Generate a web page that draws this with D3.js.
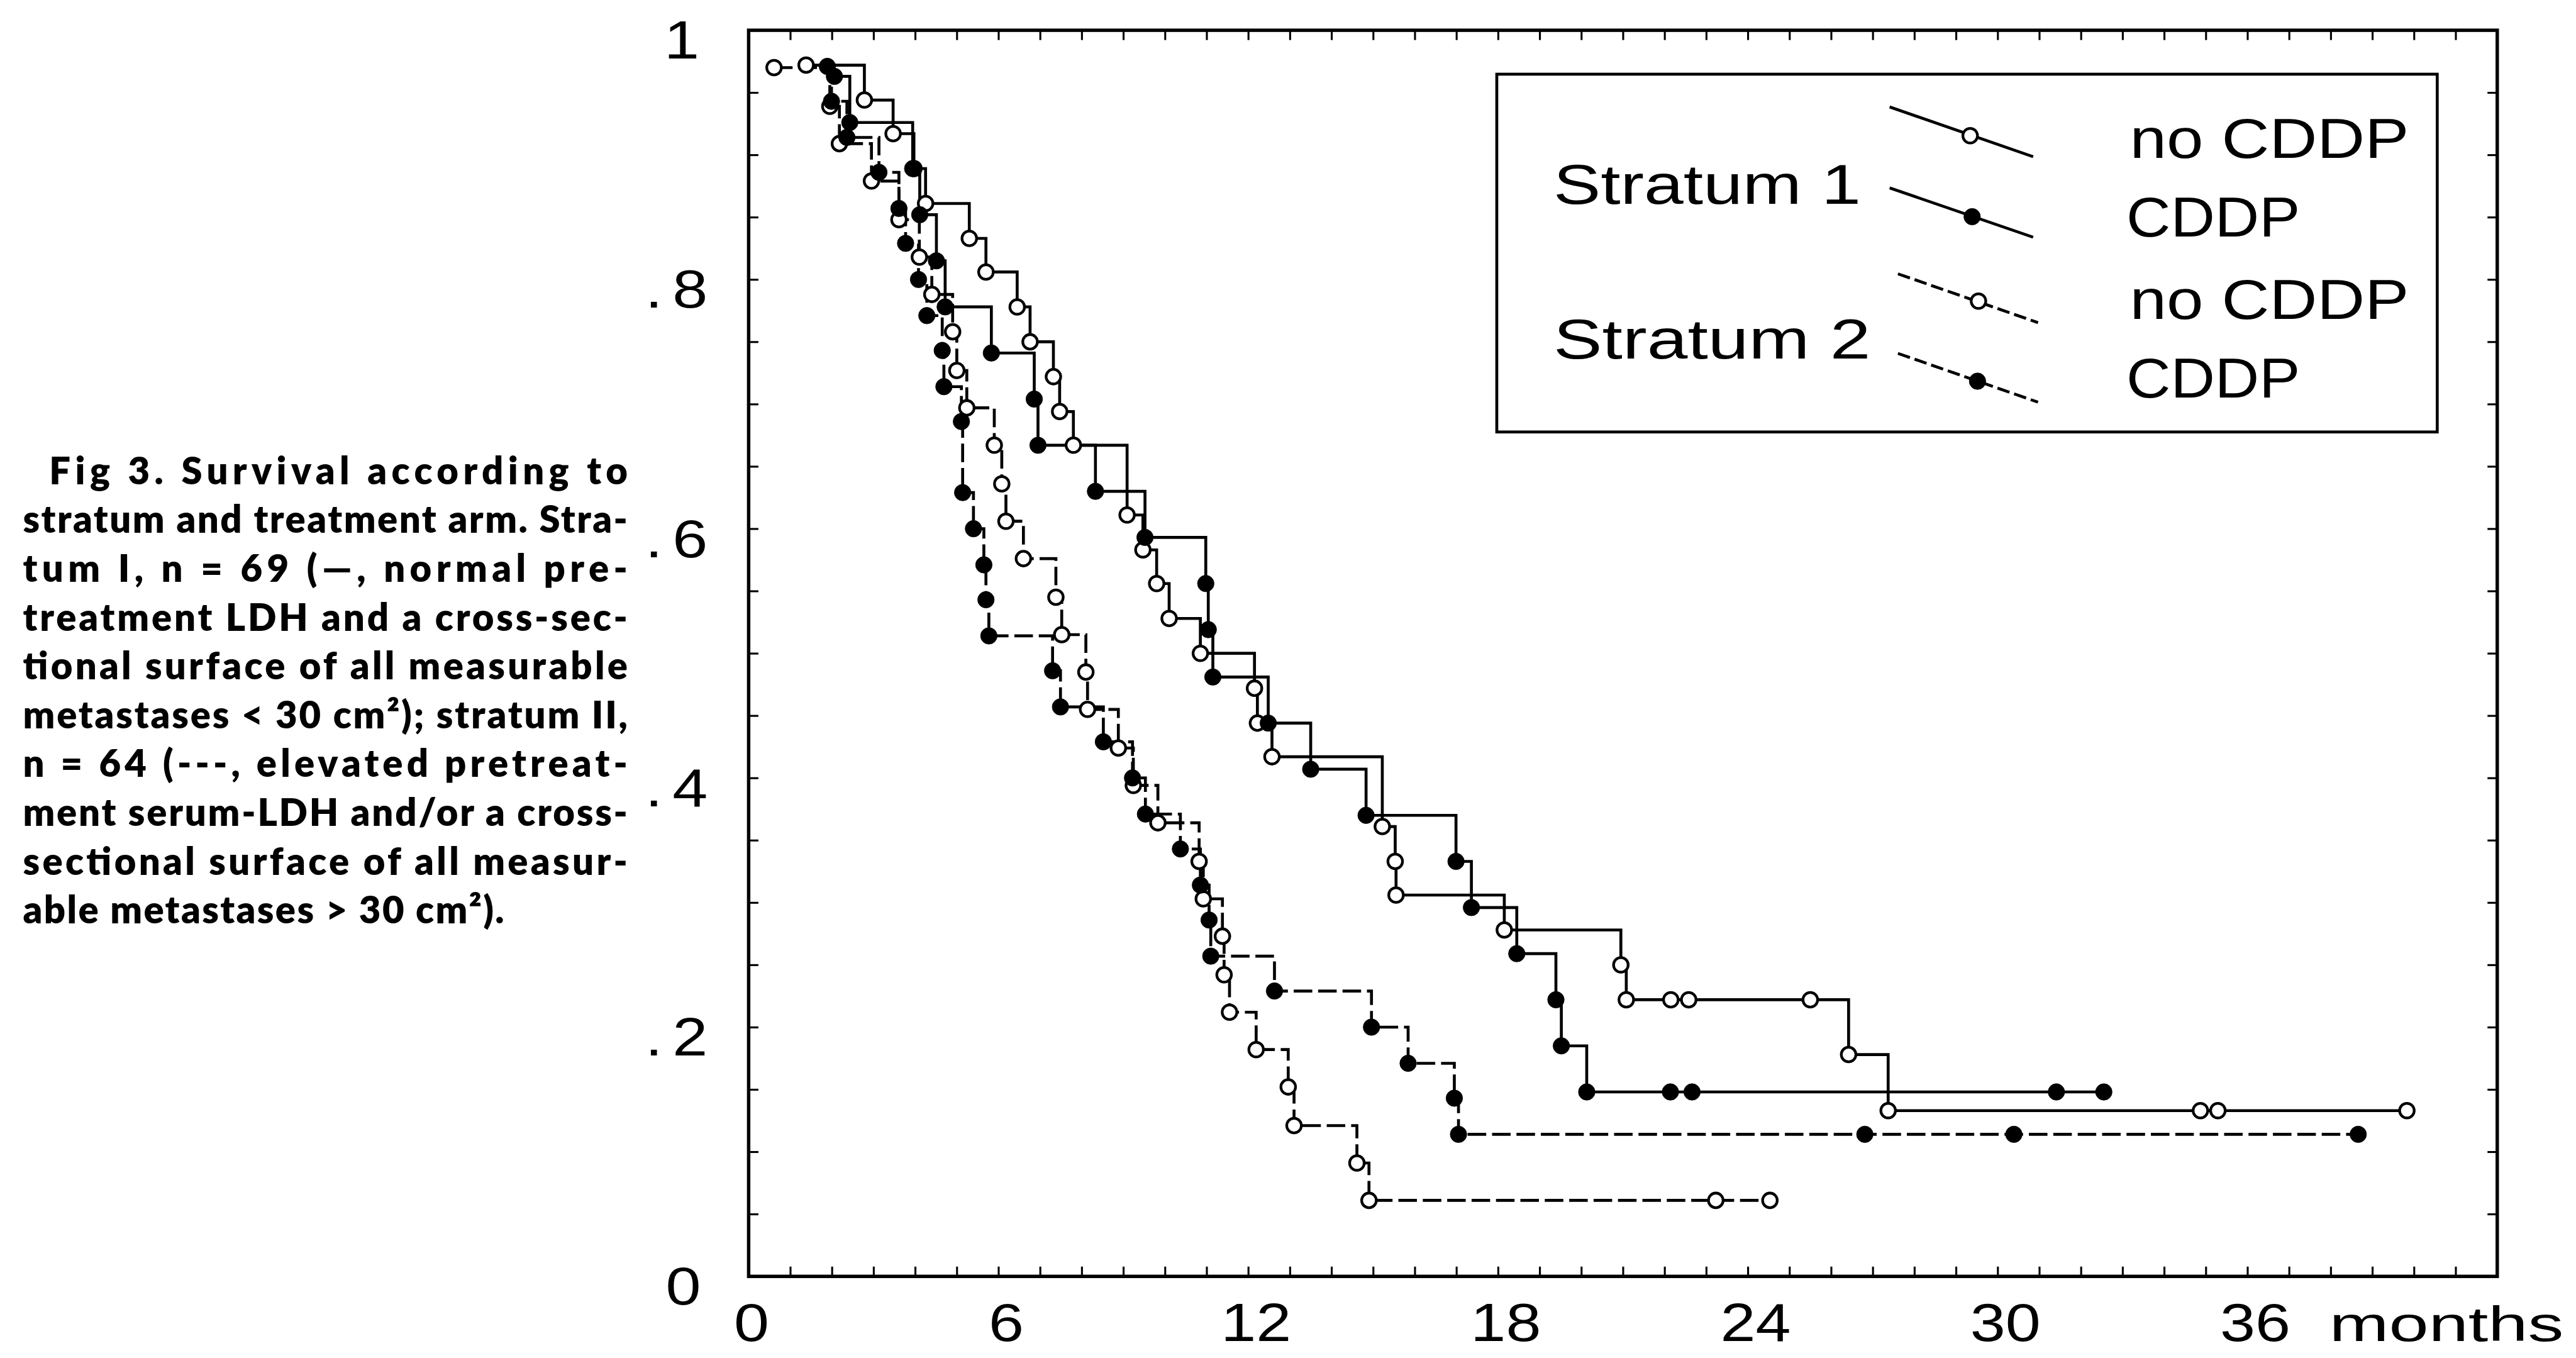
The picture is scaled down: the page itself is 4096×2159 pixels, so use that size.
<!DOCTYPE html>
<html><head><meta charset="utf-8">
<script src="https://cdnjs.cloudflare.com/ajax/libs/d3/7.8.5/d3.min.js"></script>
<style>html,body{margin:0;padding:0;background:#fff;}svg{display:block;}</style>
</head><body>
<script>
// ---------- data (time in months, survival probability) ----------
const monthTicks = d3.range(0, 43);
const xLabelValues = [0, 6, 12, 18, 24, 30, 36];
const yMinorTicks = d3.range(0, 21).map(i => i / 20);
const yLabelValues = [0, 0.2, 0.4, 0.6, 0.8, 1];
const yLabelDigits = ["0", "2", "4", "6", "8", "1"];

const s1NoCDDP = [[1.38,0.972],[2.78,0.944],[3.47,0.917],[3.97,0.889],[4.25,0.861],[5.30,0.833],[5.70,0.806],[6.45,0.778],[6.76,0.750],[7.32,0.722],[7.47,0.694],[7.80,0.667],[9.09,0.611],[9.47,0.583],[9.80,0.556],[10.10,0.528],[10.85,0.500],[12.15,0.472],[12.22,0.444],[12.57,0.417],[15.22,0.361],[15.53,0.333],[15.55,0.306],[18.15,0.278],[20.95,0.250],[21.08,0.222],[22.15,0.222],[22.58,0.222],[25.50,0.222],[26.42,0.178],[27.37,0.133],[34.87,0.133],[35.29,0.133],[39.83,0.133]];
const s1CDDP = [[2.06,0.963],[2.43,0.926],[3.94,0.889],[4.11,0.852],[4.51,0.815],[4.72,0.778],[5.83,0.741],[6.86,0.704],[6.95,0.667],[8.33,0.630],[9.52,0.593],[10.98,0.556],[11.04,0.519],[11.15,0.481],[12.48,0.444],[13.50,0.407],[14.83,0.370],[16.99,0.333],[17.36,0.296],[18.45,0.259],[19.39,0.222],[19.52,0.185],[20.13,0.148],[22.14,0.148],[22.66,0.148],[31.41,0.148],[32.55,0.148]];
const s2NoCDDP = [[0.61,0.970],[1.95,0.939],[2.18,0.909],[2.95,0.879],[3.61,0.848],[4.10,0.818],[4.40,0.788],[4.90,0.758],[5.00,0.727],[5.24,0.697],[5.90,0.667],[6.08,0.636],[6.18,0.606],[6.60,0.576],[7.38,0.545],[7.52,0.515],[8.10,0.485],[8.14,0.455],[8.88,0.424],[9.24,0.394],[9.83,0.364],[10.82,0.333],[10.92,0.303],[11.38,0.273],[11.42,0.242],[11.55,0.212],[12.19,0.182],[12.96,0.152],[13.10,0.121],[14.61,0.091],[14.90,0.061],[23.23,0.061],[24.53,0.061]];
const s2CDDP = [[1.89,0.971],[1.99,0.943],[2.36,0.914],[3.13,0.886],[3.61,0.857],[3.77,0.829],[4.08,0.800],[4.28,0.771],[4.65,0.743],[4.69,0.714],[5.11,0.686],[5.14,0.629],[5.40,0.600],[5.65,0.571],[5.70,0.543],[5.77,0.514],[7.30,0.486],[7.49,0.457],[8.52,0.429],[9.22,0.400],[9.53,0.371],[10.37,0.343],[10.85,0.314],[11.06,0.286],[11.10,0.257],[12.63,0.229],[14.96,0.200],[15.84,0.171],[16.95,0.143],[17.05,0.114],[26.81,0.114],[30.39,0.114],[38.66,0.114]];

const legendStrata = ["Stratum  1", "Stratum  2"];
const legendArms = ["no CDDP", "CDDP", "no CDDP", "CDDP"];
const xUnit = "months";
const captionLines = [
  "Fig 3.  Survival according to",
  "stratum and treatment arm. Stra-",
  "tum I, n = 69 (\u2014, normal pre-",
  "treatment LDH and a cross-sec-",
  "tional surface of all measurable",
  "metastases < 30 cm\u00B2); stratum II,",
  "n = 64 (---, elevated pretreat-",
  "ment serum-LDH and/or a cross-",
  "sectional surface of all measur-",
  "able metastases > 30 cm\u00B2)."
];

// ---------- drawing (coordinates in reference pixels, scaled) ----------
const S = 0.776;
const svg = d3.select("body").append("svg").attr("width", 4096).attr("height", 2159);
const g = svg.append("g").attr("transform", `scale(${S})`);
const x = d3.scaleLinear().domain([0, 42]).range([1534, 5117]);
const y = d3.scaleLinear().domain([0, 1]).range([2615, 62]);
const AX_FONT = "'Liberation Sans', Arial, Helvetica, sans-serif";

function stretch(sel, sx) {
  sel.each(function () {
    const w = this.getComputedTextLength();
    d3.select(this).attr("textLength", w * sx).attr("lengthAdjust", "spacingAndGlyphs");
  });
}

// axes (inward ticks on all four sides)
const TK = 20;
function styleAxis(a) {
  a.select(".domain").remove();
  a.selectAll(".tick line").attr("stroke", "#000").attr("stroke-width", 4);
}
g.append("g").attr("transform", `translate(0,${y(0)})`)
  .call(d3.axisBottom(x).tickValues(monthTicks).tickSizeInner(-TK).tickSizeOuter(0).tickFormat(""))
  .call(styleAxis);
g.append("g").attr("transform", `translate(0,${y(1)})`)
  .call(d3.axisTop(x).tickValues(monthTicks).tickSizeInner(-TK).tickSizeOuter(0).tickFormat(""))
  .call(styleAxis);
g.append("g").attr("transform", `translate(${x(0)},0)`)
  .call(d3.axisLeft(y).tickValues(yMinorTicks).tickSizeInner(-TK).tickSizeOuter(0).tickFormat(""))
  .call(styleAxis);
g.append("g").attr("transform", `translate(${x(42)},0)`)
  .call(d3.axisRight(y).tickValues(yMinorTicks).tickSizeInner(-TK).tickSizeOuter(0).tickFormat(""))
  .call(styleAxis);

g.append("rect").attr("x", x(0)).attr("y", y(1)).attr("width", x(42) - x(0)).attr("height", y(0) - y(1))
  .attr("fill", "none").attr("stroke", "#000").attr("stroke-width", 7);

// x tick labels (typed slightly right of their ticks in the original)
const XL_BASE = 2748;
const XL_SHIFT = 16;
const xl = g.append("g").attr("font-family", AX_FONT).attr("font-size", 110).attr("fill", "#000");
xl.selectAll("text.xl").data(xLabelValues).join("text").attr("class", "xl")
  .attr("x", d => x(d) + (d === 0 ? 6 : XL_SHIFT)).attr("y", XL_BASE).attr("text-anchor", "middle").text(d => d)
  .call(stretch, 1.18);
xl.append("text").attr("x", 4773).attr("y", XL_BASE).attr("font-size", 100).text(xUnit)
  .attr("textLength", 480).attr("lengthAdjust", "spacingAndGlyphs");

// y tick labels
const yl = g.append("g").attr("font-family", AX_FONT).attr("font-size", 110).attr("fill", "#000");
yLabelValues.forEach((v, i) => {
  const base = y(v) + 58;
  const d = yLabelDigits[i];
  const cx = (v === 0) ? 1400 : (v === 1 ? 1397 : 1414);
  yl.append("text").attr("x", cx).attr("y", base).attr("text-anchor", "middle").text(d).call(stretch, 1.18);
  if (v > 0 && v < 1) {
    yl.append("text").attr("x", 1340).attr("y", base).attr("text-anchor", "middle").text(".").call(stretch, 1.18);
  }
});

// curves
const series = [
  { data: s1NoCDDP, dashed: false, open: true },
  { data: s1CDDP, dashed: false, open: false },
  { data: s2NoCDDP, dashed: true, open: true },
  { data: s2CDDP, dashed: true, open: false }
];
const line = d3.line().x(d => x(d[0])).y(d => y(d[1])).curve(d3.curveStepAfter);
const DASH = "38,12";
series.forEach(s => {
  g.append("path").attr("d", line(s.data)).attr("fill", "none").attr("stroke", "#000")
    .attr("stroke-width", 6).attr("stroke-dasharray", s.dashed ? DASH : null);
});
function drawMarkers(sel, open) {
  sel.attr("r", open ? 15 : 17)
    .attr("fill", open ? "#fff" : "#000")
    .attr("stroke", "#000").attr("stroke-width", open ? 5.5 : 1);
}
series.forEach(s => {
  g.append("g").selectAll("circle").data(s.data).join("circle")
    .attr("cx", d => x(d[0])).attr("cy", d => y(d[1])).call(drawMarkers, s.open);
});

// legend
const lg = g.append("g");
lg.append("rect").attr("x", 3067).attr("y", 152).attr("width", 1927).attr("height", 733)
  .attr("fill", "#fff").attr("stroke", "#000").attr("stroke-width", 6);
const lgText = lg.append("g").attr("font-family", AX_FONT).attr("font-size", 114).attr("fill", "#000");
const strataPos = [{ x: 3183, y: 418, w: 630 }, { x: 3183, y: 735, w: 650 }];
legendStrata.forEach((t, i) => {
  lgText.append("text").attr("x", strataPos[i].x).attr("y", strataPos[i].y).text(t)
    .attr("textLength", strataPos[i].w).attr("lengthAdjust", "spacingAndGlyphs");
});
const armPos = [
  { x: 4364, y: 324, w: 572 }, { x: 4357, y: 485, w: 356 },
  { x: 4364, y: 653, w: 572 }, { x: 4357, y: 814, w: 356 }
];
legendArms.forEach((t, i) => {
  lgText.append("text").attr("x", armPos[i].x).attr("y", armPos[i].y).text(t)
    .attr("textLength", armPos[i].w).attr("lengthAdjust", "spacingAndGlyphs");
});
const sampleLines = [
  { x1: 3872, y1: 219, x2: 4166, y2: 321, mx: 4037, my: 278 },
  { x1: 3872, y1: 385, x2: 4166, y2: 486, mx: 4041, my: 444 },
  { x1: 3889, y1: 561, x2: 4176, y2: 661, mx: 4054, my: 617 },
  { x1: 3889, y1: 724, x2: 4176, y2: 824, mx: 4052, my: 781 }
];
sampleLines.forEach((p, i) => {
  const s = series[i];
  lg.append("line").attr("x1", p.x1).attr("y1", p.y1).attr("x2", p.x2).attr("y2", p.y2)
    .attr("stroke", "#000").attr("stroke-width", 6).attr("stroke-dasharray", s.dashed ? "26,10" : null);
  lg.append("circle").attr("cx", p.mx).attr("cy", p.my).call(drawMarkers, s.open);
});

// caption
const cap = g.append("g").attr("font-family", "Lato, 'Open Sans', sans-serif").attr("font-weight", 800)
  .attr("font-size", 77).attr("fill", "#000");
const CAP_L = 47, CAP_R = 1286, CAP_LAST_R = 1033;
captionLines.forEach((t, i) => {
  const x0 = i === 0 ? 101 : CAP_L;
  const right = i < captionLines.length - 1 ? CAP_R : CAP_LAST_R;
  cap.append("text").attr("x", x0).attr("y", 992 + 100 * i).text(t)
    .attr("textLength", right - x0).attr("lengthAdjust", "spacing");
});
</script>
</body></html>
